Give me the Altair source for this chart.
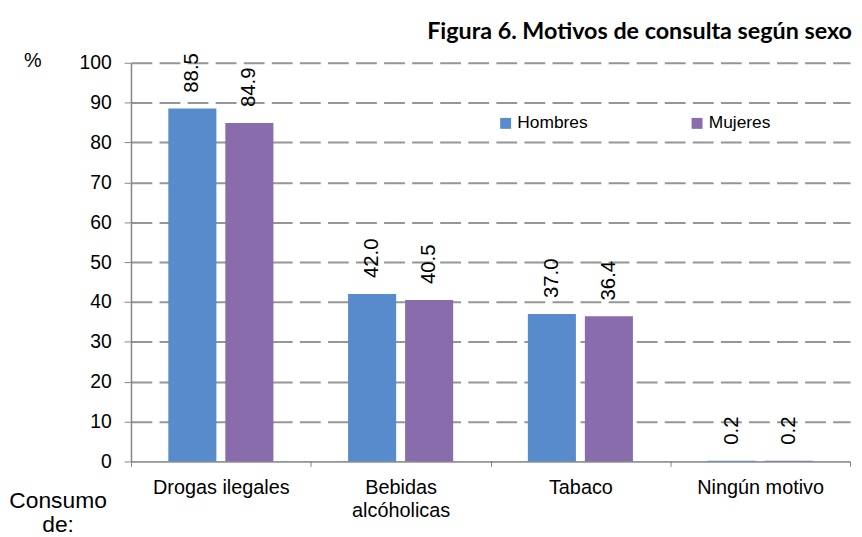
import altair as alt
import pandas as pd

categories = ["Drogas ilegales", "Bebidas alcóholicas", "Tabaco", "Ningún motivo"]
series = ["Hombres", "Mujeres"]
hombres = [88.5, 42.0, 37.0, 0.2]
mujeres = [84.9, 40.5, 36.4, 0.2]
colors = ["#578BCC", "#896CAB"]
y_ticks = [0, 10, 20, 30, 40, 50, 60, 70, 80, 90, 100]
title_text = ["Figura 6. Motivos de consulta según sexo"]
x_title = ["Consumo", "de:"]
y_title = "%"

rows = []
for i, c in enumerate(categories):
    rows.append({"cat": c, "sexo": series[0], "valor": hombres[i]})
    rows.append({"cat": c, "sexo": series[1], "valor": mujeres[i]})
df = pd.DataFrame(rows)
df_title = pd.DataFrame({"t": title_text})

FONT = "Liberation Sans"

x = alt.X(
    "cat:N",
    sort=categories,
    scale=alt.Scale(paddingInner=0, paddingOuter=0),
    axis=alt.Axis(
        title=x_title, titleX=-74, titleY=46.5, titleAlign="center",
        titleBaseline="alphabetic", titleFontSize=23, titleFontWeight="normal",
        titleFont=FONT, titleColor="black", titleLineHeight=24,
        labelAngle=0, labelFontSize=20, labelFont=FONT, labelColor="black",
        labelPadding=11, labelLineHeight=24, labelBaseline="top",
        labelExpr="indexof(datum.label, 'alc') >= 0 ? split(datum.label, ' ') : datum.label",
        tickBand="extent", tickSize=5, tickColor="#868686", domainColor="#404040",
        grid=False,
    ),
)
xoff = alt.XOffset("sexo:N", sort=series,
                   scale=alt.Scale(paddingInner=0.157, paddingOuter=0.655))
y = alt.Y(
    "valor:Q",
    scale=alt.Scale(domain=[0, 100], nice=False),
    axis=alt.Axis(
        values=y_ticks, title=y_title, titleAngle=0, titleX=-99.5, titleY=-2,
        titleAlign="center", titleBaseline="middle", titleFontSize=20,
        titleFontWeight="normal", titleFont=FONT, titleColor="black",
        labelFontSize=19.5, labelFont=FONT, labelColor="black", labelPadding=13,
        tickSize=7, tickColor="#868686", domainColor="#868686", domainWidth=1.5,
        grid=True, gridColor="#969696", gridWidth=2, gridDash=[21, 7.3],
        gridOpacity={"condition": {"test": "datum.value === 0", "value": 0}, "value": 1},
    ),
)

base = alt.Chart(df).encode(x=x, xOffset=xoff, y=y)

bars = base.mark_bar().encode(
    color=alt.Color(
        "sexo:N", sort=series,
        scale=alt.Scale(domain=series, range=colors),
        legend=alt.Legend(
            title=None, orient="none", legendX=369, legendY=52,
            direction="horizontal", symbolType="square", symbolSize=121,
            symbolStrokeWidth=0, labelFontSize=17.5, labelFont=FONT,
            labelColor="black", labelOffset=3, columnPadding=101,
        ),
    )
)

labels = base.mark_text(
    angle=270, align="left", baseline="middle", dx=16,
    fontSize=20.5, font=FONT, color="black",
).encode(text=alt.Text("valor:Q", format=".1f"))

title = alt.Chart(df_title).mark_text(
    align="right", baseline="alphabetic", font="Lato", fontSize=23.5,
    fontWeight="bold", color="black",
).encode(text="t:N", x=alt.value(727), y=alt.value(-24.3))

chart = (
    alt.layer(bars, labels, title)
    .properties(
        width=725, height=402,
        autosize=alt.AutoSizeParams(type="none"),
        padding={"left": 124, "top": 53, "right": 4, "bottom": 76},
    )
    .configure_view(stroke=None)
)

chart.save("out.html", embed_options={"renderer": "svg", "actions": False})
